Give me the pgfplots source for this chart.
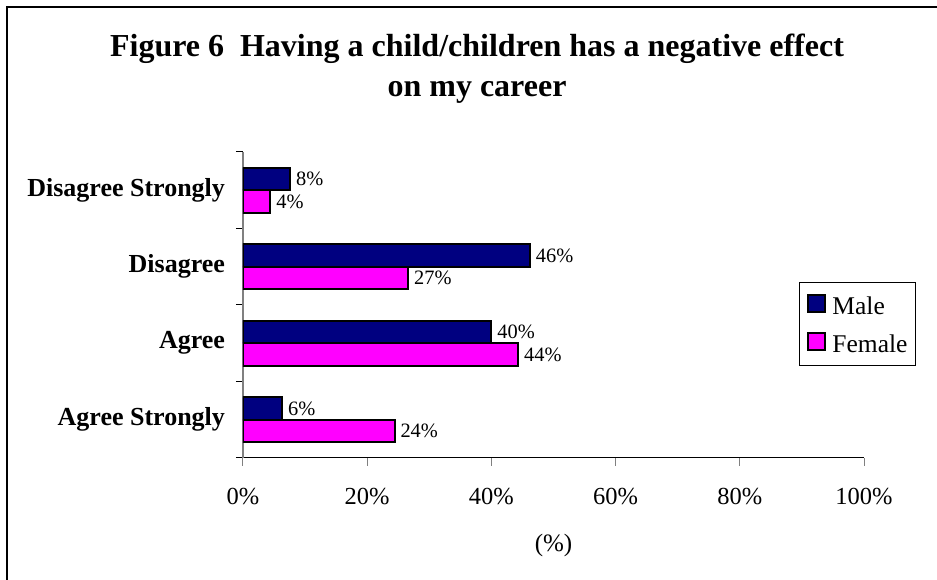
\documentclass[border=0pt]{standalone}
\usepackage{pgfplots}
\pgfplotsset{compat=1.18}
\usepackage{fontspec}
\setmainfont{Liberation Serif}
\definecolor{navyc}{RGB}{0,0,128}
\definecolor{magc}{RGB}{255,0,255}
\begin{document}
\begin{tikzpicture}[x=1pt,y=1pt]
\useasboundingbox (0,0) rectangle (937,580);
\draw[line width=2pt] (7,0) -- (7,573) -- (937,573);
\node[font=\bfseries\fontsize{32}{38}\selectfont, anchor=base, inner sep=0pt] at (477,523) {Figure 6\ \ Having a child/children has a negative effect};
\node[font=\bfseries\fontsize{32}{38}\selectfont, anchor=base, inner sep=0pt] at (477,483) {on my career};
\begin{axis}[
  at={(243pt,122pt)}, anchor=south west,
  scale only axis, width=621pt, height=306pt,
  xbar, bar width=0.294,
  xmin=0, xmax=100, ymin=-0.5, ymax=3.5,
  axis x line=bottom, axis y line=left, axis line style={-},
  x axis line style={black, line width=1pt},
  y axis line style={gray, line width=1.3pt},
  tick align=outside,
  major tick length=8pt,
  minor tick length=7pt,
  xtick={0,20,40,60,80,100},
  xticklabel={\pgfmathprintnumber[assume math mode=true]{\tick}\%},
  xticklabel style={font=\fontsize{24.5}{28}\selectfont, anchor=base, yshift=-38.5pt},
  x tick style={gray, line width=1pt},
  ytick={0,1,2,3},
  yticklabels={Agree Strongly, Agree, Disagree, Disagree Strongly},
  yticklabel style={font=\bfseries\fontsize{26}{30}\selectfont, xshift=-6.5pt},
  major y tick style={draw=none},
  minor ytick={-0.5,0.5,1.5,2.5,3.5},
  minor y tick style={black, line width=1pt},
  xlabel={(\%)},
  xlabel style={font=\fontsize{25}{29}\selectfont, at={(axis description cs:0.5,-0.2843)}, anchor=center},
  nodes near coords={\pgfmathprintnumber[fixed,precision=0,assume math mode=true]{\pgfplotspointmeta}\%},
  point meta=x,
  every node near coord/.append style={font=\fontsize{20.4}{24}\selectfont, black, anchor=west, inner sep=5pt},
  legend style={at={(axis description cs:0.8953,0.5752)}, anchor=north west, draw=black, line width=1pt,
    font=\fontsize{25.5}{29}\selectfont, row sep=17pt, column sep=6pt, inner xsep=8pt, inner ysep=12pt,
    nodes={inner sep=0pt, text height=20pt, text depth=1pt}},
  legend cell align=left,
  legend image code/.code={\draw[#1, line width=2pt] (0pt,-7.5pt) rectangle (17pt,9.5pt);},
]
\addplot[fill=navyc, draw=black, line width=2pt, bar shift=0.147] coordinates {(6.3,0) (40.0,1) (46.2,2) (7.6,3)};
\addplot[fill=magc, draw=black, line width=2pt, bar shift=-0.147] coordinates {(24.4,0) (44.3,1) (26.6,2) (4.4,3)};
\legend{Male, Female}
\end{axis}
\end{tikzpicture}
\end{document}
